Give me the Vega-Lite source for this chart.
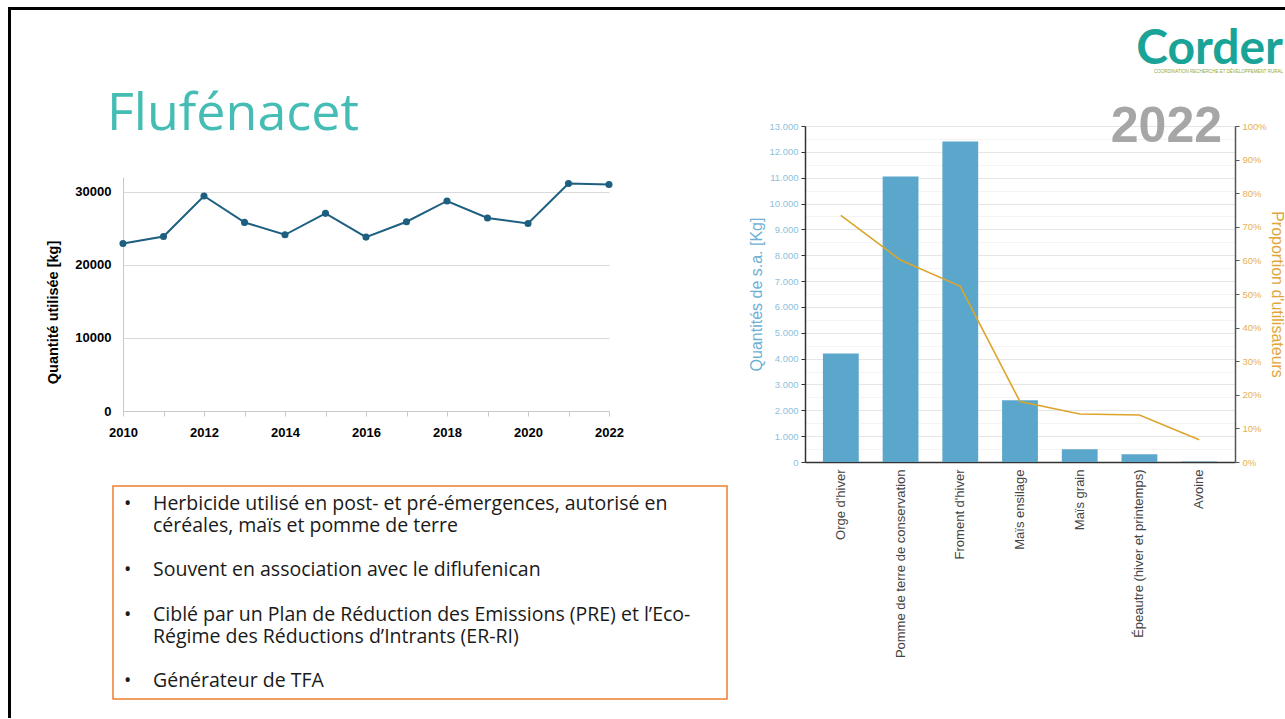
{
  "$schema": "https://vega.github.io/schema/vega-lite/v6.json",
  "background": "white",
  "padding": {"left": 8, "top": 7, "right": 0, "bottom": 0},
  "config": {"view": {"stroke": null}, "font": "Liberation Sans"},
  "spacing": 0,
  "vconcat": [
    {
      "width": 1275, "height": 1,
      "view": {"stroke": "#000000", "strokeWidth": 2},
      "data": {"values": []},
      "mark": {"type": "point", "opacity": 0}
    },
    {
      "spacing": 34,
      "hconcat": [
        {
          "width": 1, "height": 706,
          "view": {"stroke": "#000000", "strokeWidth": 2},
          "data": {"values": []},
          "mark": {"type": "point", "opacity": 0}
        },
        {
          "spacing": 14,
          "vconcat": [
            {
              "width": 1170, "height": 1,
              "title": {"text": "Corder", "subtitle": "COORDINATION RECHERCHE ET DÉVELOPPEMENT RURAL", "orient": "bottom", "anchor": "end", "frame": "group", "font": "Lato", "fontSize": 48, "fontWeight": "bold", "color": "#1AA397", "baseline": "alphabetic", "offset": 52, "subtitleFont": "Liberation Sans", "subtitleFontSize": 4.5, "subtitleColor": "#8FA83A", "subtitlePadding": -39},
              "data": {"values": []},
              "mark": {"type": "point", "opacity": 0}
            },
            {
              "spacing": 20,
              "hconcat": [
                {
                  "spacing": 37,
                  "vconcat": [
                    {
                      "width": 300, "height": 1,
                      "title": {"text": "Flufénacet", "anchor": "start", "frame": "group", "font": "Open Sans", "fontSize": 52, "fontWeight": "normal", "color": "#45BDB5", "baseline": "alphabetic", "dx": -6, "offset": -56},
                      "data": {"values": []},
                      "mark": {"type": "point", "opacity": 0}
                    },
                    {
                      "spacing": 46,
                      "vconcat": [
                        {
                          "spacing": 9,
                          "bounds": "flush",
                          "hconcat": [
                            {
                              "width": 1, "height": 1,
                              "data": {"values": []},
                              "mark": {"type": "point", "opacity": 0}
                            },
                            {
                              "width": 486, "height": 234,
                              "data": {"values": [
                                {"annee": 2010, "quantite": 22900},
                                {"annee": 2011, "quantite": 23870},
                                {"annee": 2012, "quantite": 29410},
                                {"annee": 2013, "quantite": 25790},
                                {"annee": 2014, "quantite": 24100},
                                {"annee": 2015, "quantite": 27030},
                                {"annee": 2016, "quantite": 23780},
                                {"annee": 2017, "quantite": 25880},
                                {"annee": 2018, "quantite": 28720},
                                {"annee": 2019, "quantite": 26390},
                                {"annee": 2020, "quantite": 25650},
                                {"annee": 2021, "quantite": 31100},
                                {"annee": 2022, "quantite": 30970}
                              ]},
                              "encoding": {
                                "x": {"field": "annee", "type": "quantitative", "scale": {"domain": [2010, 2022], "nice": false, "zero": false},
                                  "axis": {"title": null, "values": [2010, 2011, 2012, 2013, 2014, 2015, 2016, 2017, 2018, 2019, 2020, 2021, 2022], "format": "d", "labelExpr": "datum.value % 2 === 0 ? datum.label : ''", "grid": false, "labelFontWeight": "bold", "labelFontSize": 13, "labelColor": "#000000", "tickColor": "#C8C8C8", "tickSize": 5, "domainColor": "#C8C8C8", "labelPadding": 10, "labelFlush": false, "labelOverlap": false}},
                                "y": {"field": "quantite", "type": "quantitative", "scale": {"domain": [0, 32000], "nice": false},
                                  "axis": {"title": "Quantité utilisée [kg]", "values": [0, 10000, 20000, 30000], "format": "d", "ticks": false, "labelFontWeight": "bold", "labelFontSize": 13, "labelColor": "#000000", "labelPadding": 12, "titleFontSize": 14.5, "titleFontWeight": "bold", "titleColor": "#000000", "titlePadding": 14, "titleY": 135, "gridColor": "#D9D9D9", "domainColor": "#C8C8C8"}}
                              },
                              "layer": [
                                {"mark": {"type": "line", "color": "#1D5F80", "strokeWidth": 2}},
                                {"mark": {"type": "point", "filled": true, "color": "#1D5F80", "size": 50, "opacity": 1}}
                              ]
                            }
                          ]
                        },
                        {
                          "width": 614, "height": 213,
                          "view": {"stroke": "#ED7D31", "strokeWidth": 1.5},
                          "data": {"values": [
                            {"ligne": 1, "puce": "•", "texte": "Herbicide utilisé en post- et pré-émergences, autorisé en"},
                            {"ligne": 2, "puce": "", "texte": "céréales, maïs et pomme de terre"},
                            {"ligne": 4, "puce": "•", "texte": "Souvent en association avec le diflufenican"},
                            {"ligne": 6, "puce": "•", "texte": "Ciblé par un Plan de Réduction des Emissions (PRE) et l’Eco-"},
                            {"ligne": 7, "puce": "", "texte": "Régime des Réductions d’Intrants (ER-RI)"},
                            {"ligne": 9, "puce": "•", "texte": "Générateur de TFA"}
                          ]},
                          "encoding": {"y": {"field": "ligne", "type": "ordinal", "scale": {"type": "point", "domain": [1, 2, 3, 4, 5, 6, 7, 8, 9], "padding": 0.79}, "axis": null}},
                          "layer": [
                            {"mark": {"type": "text", "align": "left", "baseline": "middle", "font": "Open Sans", "fontSize": 19.5, "color": "#1A1A1A"}, "encoding": {"x": {"value": 40}, "text": {"field": "texte"}}},
                            {"mark": {"type": "text", "align": "left", "baseline": "middle", "font": "Open Sans", "fontSize": 19.5, "color": "#1A1A1A"}, "encoding": {"x": {"value": 11}, "text": {"field": "puce"}}}
                          ]
                        }
                      ]
                    }
                  ]
                },
                {
                  "width": 430, "height": 336,
                  "title": {"text": "2022", "anchor": "end", "frame": "group", "orient": "top", "fontSize": 50, "fontWeight": "bold", "font": "Liberation Sans", "color": "#A6A6A6", "baseline": "alphabetic", "dx": -13, "offset": -71},
                  "data": {"values": [
                    {"culture": "Orge d'hiver", "quantite": 4200, "proportion": 0.734},
                    {"culture": "Pomme de terre de conservation", "quantite": 11050, "proportion": 0.601},
                    {"culture": "Froment d'hiver", "quantite": 12400, "proportion": 0.523},
                    {"culture": "Maïs ensilage", "quantite": 2390, "proportion": 0.18},
                    {"culture": "Maïs grain", "quantite": 490, "proportion": 0.143},
                    {"culture": "Épeautre (hiver et printemps)", "quantite": 300, "proportion": 0.14},
                    {"culture": "Avoine", "quantite": 15, "proportion": 0.066}
                  ]},
                  "encoding": {
                    "x": {"field": "culture", "type": "nominal", "sort": null, "scale": {"paddingInner": 0.4, "paddingOuter": 0.3},
                      "axis": {"title": null, "labelAngle": -90, "labelFontSize": 13, "labelColor": "#444444", "labelPadding": 7, "ticks": false, "domainColor": "#333333", "domainWidth": 1.5, "labelLimit": 300}}
                  },
                  "layer": [
                    {"mark": {"type": "bar", "color": "#5BA7CB"},
                      "encoding": {"y": {"field": "quantite", "type": "quantitative", "scale": {"domain": [0, 13000], "nice": false},
                        "axis": {"title": "Quantités de s.a. [Kg]", "titleColor": "#6DB0D5", "titleFontSize": 16, "titleFontWeight": "normal", "titlePadding": 4,
                          "labelColor": "#8DBFDC", "labelFontSize": 9.5, "labelPadding": 3,
                          "values": [0, 500, 1000, 1500, 2000, 2500, 3000, 3500, 4000, 4500, 5000, 5500, 6000, 6500, 7000, 7500, 8000, 8500, 9000, 9500, 10000, 10500, 11000, 11500, 12000, 12500, 13000],
                          "labelExpr": "datum.value % 1000 === 0 ? replace(format(datum.value, ','), ',', '.') : ''",
                          "tickOpacity": {"condition": {"test": "datum.value % 1000 !== 0", "value": 0}, "value": 1},
                          "gridColor": {"condition": {"test": "datum.value % 1000 !== 0", "value": "#F4F4F4"}, "value": "#E6E6E6"},
                          "domainColor": "#333333", "domainWidth": 1.5, "tickColor": "#333333", "tickSize": 4}}}},
                    {"mark": {"type": "line", "color": "#DDA52C", "strokeWidth": 1.6},
                      "encoding": {"y": {"field": "proportion", "type": "quantitative", "scale": {"domain": [0, 1], "nice": false},
                        "axis": {"orient": "right", "title": "Proportion d'utilisateurs", "titleColor": "#E2A53A", "titleFontSize": 16, "titleFontWeight": "normal", "titlePadding": 2,
                          "format": ".0%", "values": [0, 0.1, 0.2, 0.3, 0.4, 0.5, 0.6, 0.7, 0.8, 0.9, 1], "grid": false,
                          "labelColor": "#E8B04D", "labelFontSize": 9.5, "labelPadding": 3, "tickColor": "#555555", "tickSize": 4, "domainColor": "#555555", "domainWidth": 1.5}}}}
                  ],
                  "resolve": {"scale": {"y": "independent"}}
                }
              ]
            }
          ]
        }
      ]
    }
  ]
}
